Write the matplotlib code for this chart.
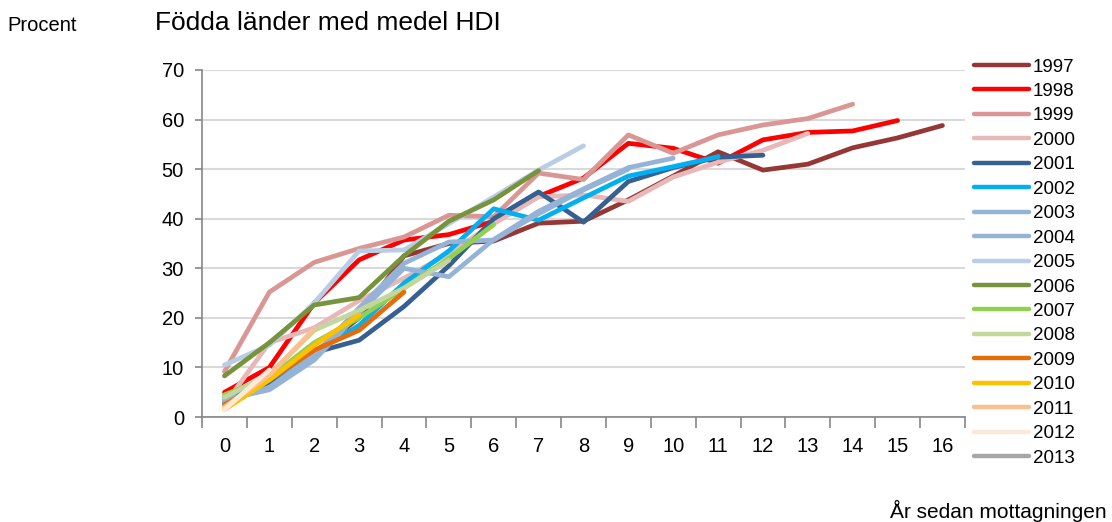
import matplotlib
matplotlib.use("Agg")
import matplotlib.pyplot as plt
import numpy as np

plt.rcParams['font.family'] = ['Liberation Sans', 'DejaVu Sans']

years = ["1997", "1998", "1999", "2000", "2001", "2002", "2003", "2004", "2005",
         "2006", "2007", "2008", "2009", "2010", "2011", "2012", "2013"]

v1997 = [3, 7.5, 13, 20, 32.5, 35, 35.5, 39.1, 39.5, 43.8, 48.6, 53.5, 49.8, 51, 54.3, 56.3, 58.8]
v1998 = [5, 10, 23, 31.7, 35.7, 36.8, 39.5, 44.5, 48.2, 55.2, 54.2, 51.2, 55.9, 57.4, 57.7, 59.8]
v1999 = [9.2, 25.2, 31.2, 34, 36.3, 40.7, 40.4, 49.2, 47.9, 56.9, 53.2, 56.9, 58.9, 60.2, 63.1]
v2000 = [2.5, 15, 18, 23.5, 28, 33, 39, 44.4, 44.8, 43.5, 48.4, 51.4, 53.8, 57.2]
v2001 = [3, 7, 13, 15.5, 22.3, 30.5, 40, 45.4, 39.3, 47.5, 50.3, 52.4, 52.8]
v2002 = [4, 7.5, 13, 18.5, 27, 33.5, 42, 39.7, 44.2, 48.6, 50.5, 52.5]
v2003 = [3.5, 5.5, 11.5, 21, 30, 28.3, 35.8, 41.5, 46, 50.3, 52.2]
v2004 = [3, 6, 12.5, 22, 31, 35.3, 35.7, 41, 45.8, 50]
v2005 = [10.5, 14.5, 23, 33.5, 33.7, 39, 44.4, 49.8, 54.7]
v2006 = [8.3, 15, 22.6, 24.1, 32.5, 39.5, 43.8, 49.7]
v2007 = [4.5, 8, 15, 20, 26, 32, 38.8]
v2008 = [4, 8.5, 17.5, 21.5, 26, 31.6]
v2009 = [2.5, 7.5, 13.5, 17.5, 25.2]
v2010 = [1.5, 7.5, 14.5, 20.6]
v2011 = [2, 8.5, 17.8]
v2012 = [1.5, 9.5]
v2013 = [2]

series = [v1997, v1998, v1999, v2000, v2001, v2002, v2003, v2004, v2005,
          v2006, v2007, v2008, v2009, v2010, v2011, v2012, v2013]

colors = ["#953735", "#ff0000", "#d99694", "#e6b9b8", "#376092", "#00b0f0",
          "#95b3d7", "#95b3d7", "#b9cde5", "#77933c", "#92d050", "#c3d69b",
          "#e46c0a", "#ffc000", "#fac090", "#fde9d9", "#a6a6a6"]

x_labels = [str(i) for i in range(17)]
y_ticks = [0, 10, 20, 30, 40, 50, 60, 70]

fig = plt.figure(figsize=(11.12, 5.22), dpi=100)
ax = fig.add_axes([0.1817, 0.201, 0.686, 0.665])

for yr, vals, c in zip(years, series, colors):
    ax.plot(np.arange(len(vals)), vals, color=c, lw=3.4, solid_capstyle='round',
            solid_joinstyle='round', label=yr)

ax.set_xlim(-0.5, 16.5)
ax.set_ylim(0, 70)
ax.set_yticks(y_ticks)
ax.set_xticks(range(17))
ax.set_xticklabels(x_labels)
ax.set_xticks(np.arange(-0.5, 17, 1), minor=True)
ax.tick_params(axis='x', which='major', length=0, labelsize=14.5, pad=14)
ax.tick_params(axis='x', which='minor', length=8, width=1.2, color='#868686', direction='out')
ax.tick_params(axis='y', which='major', length=5, width=1.2, color='#868686', labelsize=14.5, pad=8)
ax.grid(axis='y', color='#d9d9d9', lw=1.5)
ax.set_axisbelow(True)
for s in ['top', 'right']:
    ax.spines[s].set_visible(False)
for s in ['left', 'bottom']:
    ax.spines[s].set_color('#868686')
    ax.spines[s].set_linewidth(1.2)

fig.text(0.139, 0.955, "Födda länder med medel HDI", fontsize=19, ha='left', va='center')
fig.text(0.007, 0.952, "Procent", fontsize=14.5, ha='left', va='center')
fig.text(0.995, 0.022, "År sedan mottagningen", fontsize=15, ha='right', va='center')

leg = fig.legend(loc='upper left', bbox_to_anchor=(0.876, 0.888), frameon=False,
                 fontsize=13.5, handlelength=2.93, handletextpad=0.2, labelspacing=0.39,
                 borderaxespad=0, borderpad=0)
for h in leg.get_lines():
    h.set_linewidth(3.2)
    h.set_solid_capstyle('round')

fig.savefig("out.png", dpi=100)
